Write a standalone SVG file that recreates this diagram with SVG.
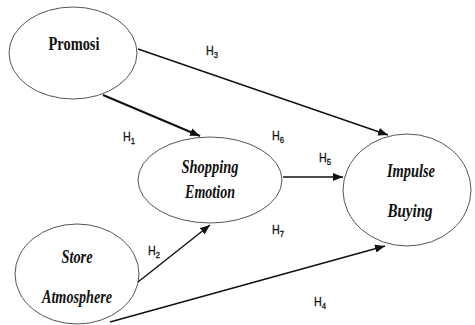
<svg xmlns="http://www.w3.org/2000/svg" width="475" height="325" viewBox="0 0 475 325">
<style>
.node{fill:#fff;stroke:#555;stroke-width:1}
.t{font-family:"Liberation Serif",serif;font-weight:bold;font-size:18px;fill:#111;text-anchor:middle}
.i{font-style:italic}
.c{stroke:#111;stroke-width:1.4;fill:none;marker-end:url(#ah)}
.h{font-family:"Liberation Sans",sans-serif;font-size:12.5px;fill:#111;stroke:#111;stroke-width:0.3}
.s{font-size:9px}
</style>
<defs>
<marker id="ah" viewBox="0 0 10 8" refX="10" refY="4" markerWidth="10" markerHeight="8" markerUnits="userSpaceOnUse" orient="auto">
<path d="M0,0 L10,4 L0,8 z" fill="#111"/>
</marker>
</defs>
<rect width="475" height="325" fill="#fff"/>
<g id="promosi">
<ellipse class="node" cx="73" cy="53" rx="64" ry="46"/>
<text class="t" x="74" y="50" textLength="51" lengthAdjust="spacingAndGlyphs">Promosi</text>
</g>
<g id="shopping-emotion">
<ellipse class="node" cx="210" cy="180" rx="72" ry="43"/>
<text class="t i" x="210" y="173" textLength="57" lengthAdjust="spacingAndGlyphs">Shopping</text>
<text class="t i" x="210" y="198" textLength="50" lengthAdjust="spacingAndGlyphs">Emotion</text>
</g>
<g id="impulse-buying">
<ellipse class="node" cx="407" cy="190" rx="64" ry="56"/>
<text class="t i" x="411" y="177" textLength="48" lengthAdjust="spacingAndGlyphs">Impulse</text>
<text class="t i" x="410" y="217" textLength="45" lengthAdjust="spacingAndGlyphs">Buying</text>
</g>
<g id="store-atmosphere">
<ellipse class="node" cx="77" cy="274" rx="62" ry="50"/>
<text class="t i" x="77" y="263" textLength="31" lengthAdjust="spacingAndGlyphs">Store</text>
<text class="t i" x="77" y="303" textLength="70" lengthAdjust="spacingAndGlyphs">Atmosphere</text>
</g>
<g id="connectors">
<line class="c" x1="138" y1="49" x2="388" y2="135"/>
<line class="c" x1="103" y1="95" x2="200" y2="136" style="stroke-width:2"/>
<line class="c" x1="138" y1="282" x2="210" y2="225"/>
<line class="c" x1="110" y1="322" x2="385" y2="246"/>
<line class="c" x1="283" y1="177" x2="343" y2="177"/>
</g>
<g id="labels">
<text class="h" x="206" y="55" textLength="12" lengthAdjust="spacingAndGlyphs">H<tspan class="s" dy="2.5">3</tspan></text>
<text class="h" x="123" y="141" textLength="12" lengthAdjust="spacingAndGlyphs">H<tspan class="s" dy="2.5">1</tspan></text>
<text class="h" x="272" y="140" textLength="12" lengthAdjust="spacingAndGlyphs">H<tspan class="s" dy="2.5">6</tspan></text>
<text class="h" x="319" y="162" textLength="12" lengthAdjust="spacingAndGlyphs">H<tspan class="s" dy="2.5">5</tspan></text>
<text class="h" x="148" y="255" textLength="12" lengthAdjust="spacingAndGlyphs">H<tspan class="s" dy="2.5">2</tspan></text>
<text class="h" x="272" y="234" textLength="12" lengthAdjust="spacingAndGlyphs">H<tspan class="s" dy="2.5">7</tspan></text>
<text class="h" x="314" y="306" textLength="12" lengthAdjust="spacingAndGlyphs">H<tspan class="s" dy="2.5">4</tspan></text>
</g>
</svg>
